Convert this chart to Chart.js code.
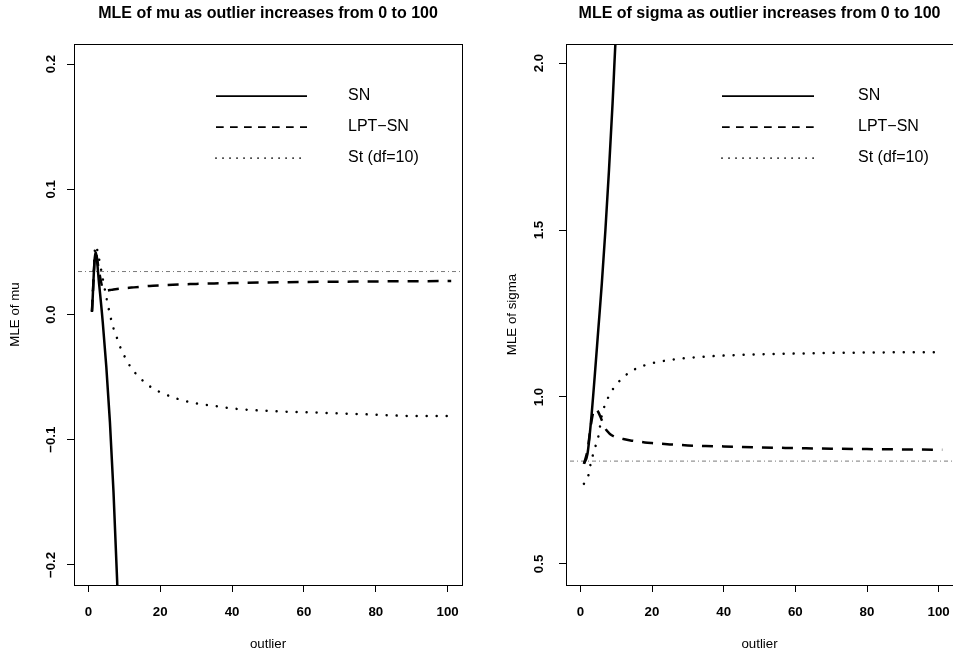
<!DOCTYPE html>
<html>
<head>
<meta charset="utf-8">
<script src="https://cdn.jsdelivr.net/npm/chart.js@4.4.0/dist/chart.umd.min.js"></script>
<style>
  body { margin: 0; background: #fff; overflow: hidden; }
  canvas { position: absolute; top: 0; }
</style>
</head>
<body>
<canvas id="muChart" width="476" height="655" style="left:0"></canvas>
<canvas id="sigmaChart" width="477" height="655" style="left:476px"></canvas>
<script>
// outlier grid (x values)
const outlier = [1, 2, 3, 4, 5, 6, 7, 8, 9, 10, 12, 14, 16, 18, 20, 25, 30, 35, 40, 50, 60, 70, 80, 90, 101];
const xTicks = [0, 20, 40, 60, 80, 100];
const seriesNames = ['SN', 'LPT\u2212SN', 'St (df=10)'];

// MLE of mu
const muSN = [0.002, 0.050, 0.024, -0.006, -0.042, -0.086, -0.142, -0.212, -0.295, -0.390];
const muLPT = [0.003, 0.049, 0.034, 0.021, 0.019, 0.0195, 0.0200, 0.0204, 0.0207, 0.0210, 0.0215, 0.0220, 0.0226,
    0.0230, 0.0233, 0.0240, 0.0244, 0.0248, 0.0251, 0.0256, 0.0260, 0.0262, 0.0264, 0.0266, 0.0267];
const muSt = [0.003, 0.055, 0.044, 0.0285, 0.014, 0.000, -0.011, -0.019, -0.027, -0.033, -0.043, -0.0495, -0.055,
    -0.059, -0.062, -0.0675, -0.071, -0.073, -0.075, -0.077, -0.078, -0.079, -0.080, -0.081, -0.081];
const muRef = 0.0343;
const muTicks = [-0.2, -0.1, 0.0, 0.1, 0.2];

// MLE of sigma
const sigmaSN = [0.80, 0.83, 0.93, 1.06, 1.20, 1.34, 1.50, 1.68, 1.88, 2.10, 2.34];
const sigmaLPT = [0.80, 0.84, 0.92, 0.965, 0.955, 0.93, 0.905, 0.892, 0.884, 0.879, 0.874, 0.870, 0.867,
    0.864, 0.862, 0.858, 0.855, 0.853, 0.852, 0.849, 0.847, 0.845, 0.844, 0.843, 0.842];
const sigmaSt = [0.74, 0.755, 0.805, 0.845, 0.88, 0.945, 0.98, 1.003, 1.022, 1.037, 1.059, 1.076, 1.087,
    1.095, 1.101, 1.111, 1.117, 1.121, 1.124, 1.128, 1.130, 1.132, 1.133, 1.134, 1.134];
const sigmaRef = 0.808;
const sigmaTicks = [0.5, 1.0, 1.5, 2.0];

const FONT = 'Liberation Sans, Arial, Helvetica, sans-serif';
const X_MIN = -4, X_MAX = 104;

const styles = [
    {borderDash: [], borderCapStyle: 'butt'},
    {borderDash: [11, 9], borderCapStyle: 'butt'},
    {borderDash: [0.01, 10], borderCapStyle: 'round'}
];

function toPoints(values) {
    return values.map((y, i) => ({x: outlier[i], y: y}));
}

function fmt(v) {
    return Number(v).toFixed(1).replace('-', '\u2212');
}

// box round the plot region + R-style legend without a frame
const frame = {
    id: 'frame',
    afterDatasetsDraw(chart, args, opts) {
        const ctx = chart.ctx;
        const a = chart.chartArea;
        ctx.save();
        ctx.strokeStyle = '#000';
        ctx.lineWidth = 1;
        ctx.setLineDash([]);
        ctx.strokeRect(Math.round(a.left) + 0.5, Math.round(a.top) + 0.5,
            Math.round(a.right - a.left), Math.round(a.bottom - a.top));

        const scale = 0.7;
        seriesNames.forEach((name, i) => {
            const y = a.top + opts.rows[i];
            const x0 = a.left + opts.lineX;
            ctx.beginPath();
            ctx.lineWidth = 1.75;
            ctx.lineCap = styles[i].borderCapStyle;
            ctx.setLineDash(styles[i].borderDash.map(d => d * scale));
            ctx.moveTo(x0, y);
            ctx.lineTo(x0 + opts.lineW, y);
            ctx.stroke();
            ctx.setLineDash([]);
            ctx.fillStyle = '#000';
            ctx.font = '16px ' + FONT;
            ctx.textAlign = 'left';
            ctx.textBaseline = 'middle';
            ctx.fillText(name, a.left + opts.textX, y);
        });
        ctx.restore();
    }
};

function makePanel(id, cfg) {
    const lines = cfg.series.map((values, i) => ({
        label: seriesNames[i],
        data: toPoints(values),
        borderColor: '#000',
        borderWidth: 2.5,
        borderDash: styles[i].borderDash,
        borderCapStyle: styles[i].borderCapStyle,
        pointRadius: 0,
        cubicInterpolationMode: 'monotone',
        clip: 0
    }));
    lines.push({
        label: 'ref',
        data: [{x: X_MIN, y: cfg.ref}, {x: X_MAX, y: cfg.ref}],
        borderColor: '#7a7a7a',
        borderWidth: 1,
        borderDash: [1, 3, 4, 3],
        pointRadius: 0,
        clip: 0
    });

    const axisGrid = {drawOnChartArea: false, drawTicks: true, tickLength: 7, color: '#000', lineWidth: 1};

    return new Chart(document.getElementById(id), {
        type: 'line',
        data: {datasets: lines},
        plugins: [frame],
        options: {
            responsive: false,
            animation: false,
            layout: {padding: {left: 0, top: 0, bottom: 0, right: cfg.rightPad}},
            plugins: {
                legend: {display: false},
                tooltip: {enabled: false},
                title: {
                    display: true,
                    text: cfg.title,
                    fullSize: false,
                    color: '#000',
                    font: {family: FONT, size: 16, weight: 'bold', lineHeight: 1.2},
                    padding: {top: 4.4, bottom: 20.4}
                },
                frame: cfg.legend
            },
            scales: {
                x: {
                    type: 'linear',
                    min: X_MIN,
                    max: X_MAX,
                    afterBuildTicks: s => { s.ticks = xTicks.map(v => ({value: v})); },
                    afterFit: s => { s.height = 70; s.paddingLeft = 0; s.paddingRight = 0; },
                    grid: axisGrid,
                    border: {display: false},
                    ticks: {
                        color: '#000', padding: 12, maxRotation: 0, autoSkip: false,
                        font: {family: FONT, size: 13.3, weight: 'bold'}
                    },
                    title: {
                        display: true, text: 'outlier', color: '#000',
                        font: {family: FONT, size: 13.3, lineHeight: 1.2},
                        padding: {top: 0, bottom: 3}
                    }
                },
                y: {
                    type: 'linear',
                    min: cfg.yMin,
                    max: cfg.yMax,
                    afterBuildTicks: s => { s.ticks = cfg.yTicks.map(v => ({value: v})); },
                    afterFit: s => { s.width = cfg.axisW; s.paddingTop = 0; s.paddingBottom = 0; },
                    grid: axisGrid,
                    border: {display: false},
                    ticks: {
                        color: '#000', padding: cfg.tickPad, minRotation: 90, maxRotation: 90,
                        crossAlign: 'center', autoSkip: false,
                        font: {family: FONT, size: 13.3, weight: 'bold'},
                        callback: v => fmt(v)
                    },
                    title: {
                        display: true, text: cfg.yLabel, color: '#000',
                        font: {family: FONT, size: 13.3, lineHeight: 1.2},
                        padding: {top: cfg.titlePad, bottom: 0}
                    }
                }
            }
        }
    });
}

makePanel('muChart', {
    title: 'MLE of mu as outlier increases from 0 to 100',
    yLabel: 'MLE of mu',
    series: [muSN, muLPT, muSt],
    ref: muRef,
    yMin: -0.216, yMax: 0.216, yTicks: muTicks,
    axisW: 74, rightPad: 14, tickPad: 3, titlePad: 7,
    legend: {lineX: 142, lineW: 91, textX: 274, rows: [52, 83, 114]}
});

makePanel('sigmaChart', {
    title: 'MLE of sigma as outlier increases from 0 to 100',
    yLabel: 'MLE of sigma',
    series: [sigmaSN, sigmaLPT, sigmaSt],
    ref: sigmaRef,
    yMin: 0.437, yMax: 2.057, yTicks: sigmaTicks,
    axisW: 90, rightPad: 0, tickPad: 10.5, titlePad: 28,
    legend: {lineX: 156, lineW: 92, textX: 292, rows: [52, 83, 114]}
});
</script>
</body>
</html>
